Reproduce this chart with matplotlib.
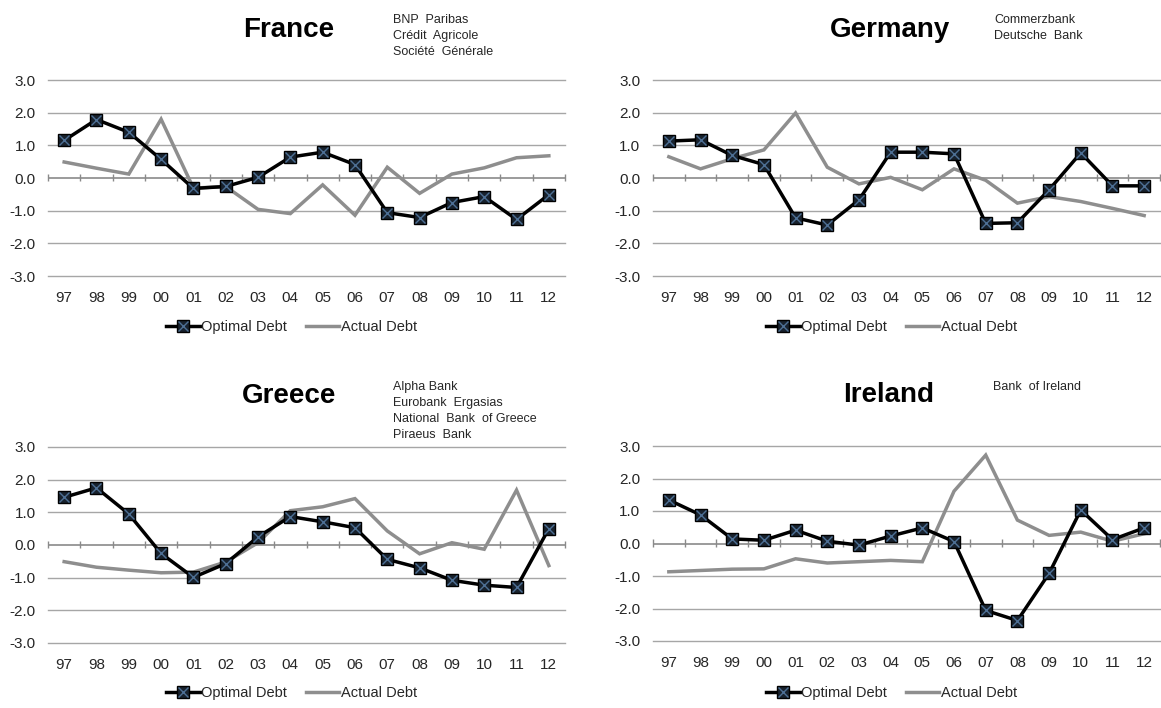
import numpy as np
import matplotlib
matplotlib.use('Agg')
import matplotlib.pyplot as plt
from matplotlib.lines import Line2D

plt.rcParams['font.family'] = ['Liberation Sans', 'DejaVu Sans']

years = ['97', '98', '99', '00', '01', '02', '03', '04', '05', '06', '07', '08', '09', '10', '11', '12']

france_optimal = [1.15, 1.79, 1.40, 0.57, -0.32, -0.26, 0.02, 0.64, 0.79, 0.41, -1.06, -1.21, -0.75, -0.57, -1.27, -0.51]
france_actual = [0.49, 0.30, 0.12, 1.80, -0.31, -0.26, -0.96, -1.09, -0.21, -1.14, 0.33, -0.47, 0.12, 0.31, 0.62, 0.68]

germany_optimal = [1.13, 1.17, 0.69, 0.41, -1.22, -1.44, -0.67, 0.79, 0.79, 0.74, -1.39, -1.37, -0.36, 0.77, -0.24, -0.24]
germany_actual = [0.65, 0.28, 0.59, 0.86, 1.99, 0.33, -0.18, 0.02, -0.36, 0.28, -0.07, -0.77, -0.57, -0.72, -0.93, -1.15]

greece_optimal = [1.46, 1.75, 0.95, -0.26, -0.99, -0.57, 0.25, 0.87, 0.71, 0.53, -0.44, -0.70, -1.08, -1.23, -1.30, 0.50]
greece_actual = [-0.51, -0.68, -0.77, -0.85, -0.83, -0.52, 0.07, 1.05, 1.17, 1.42, 0.43, -0.27, 0.07, -0.13, 1.68, -0.63]

ireland_optimal = [1.34, 0.88, 0.14, 0.10, 0.41, 0.07, -0.05, 0.23, 0.48, 0.06, -2.06, -2.37, -0.92, 1.03, 0.12, 0.48]
ireland_actual = [-0.87, -0.83, -0.79, -0.78, -0.47, -0.60, -0.56, -0.52, -0.56, 1.61, 2.72, 0.72, 0.25, 0.35, 0.07, 0.30]

panels = [
    ('France', ['BNP  Paribas', 'Crédit  Agricole', 'Société  Générale'], france_optimal, france_actual),
    ('Germany', ['Commerzbank', 'Deutsche  Bank'], germany_optimal, germany_actual),
    ('Greece', ['Alpha Bank', 'Eurobank  Ergasias', 'National  Bank  of Greece', 'Piraeus  Bank'], greece_optimal, greece_actual),
    ('Ireland', ['Bank  of Ireland'], ireland_optimal, ireland_actual),
]

W, H = 1161, 708
# pixel boxes: left, top, right, bottom of plot area
boxes = [(48, 80, 565, 276), (653, 80, 1160, 276), (48, 447, 565, 643), (653, 446, 1160, 641)]
title_pos = [(289, 30, 393, 20), (890, 30, 994, 20), (289, 396, 393, 387), (889, 395, 993, 387)]
legend_y = [327, 327, 693, 693]

BLACK = '#000000'
GREY = '#8e8e8e'
GRID = '#a6a6a6'
TEXT = '#262626'

fig = plt.figure(figsize=(W / 100, H / 100), dpi=100)

x = np.arange(len(years))

for (name, banks, opt, act), (l, t, r, b), (tx, ty, bx, by), ly in zip(panels, boxes, title_pos, legend_y):
    ax = fig.add_axes([l / W, 1 - b / H, (r - l) / W, (b - t) / H])
    ax.set_xlim(-0.5, len(years) - 0.5)
    ax.set_ylim(-3, 3)
    for s in ax.spines.values():
        s.set_visible(False)
    for g in [-3, -2, -1, 1, 2, 3]:
        ax.axhline(g, color=GRID, lw=1.0, zorder=0, clip_on=False)
    ax.axhline(0, color='#8a8a8a', lw=1.2, zorder=1)
    ax.vlines(np.arange(len(years) + 1) - 0.5, -0.1, 0.13, color='#8a8a8a', lw=1.0, zorder=1, clip_on=False)

    ax.plot(x, act, color=GREY, lw=2.5, solid_joinstyle='miter', zorder=2)
    ax.plot(x, opt, color=BLACK, lw=2.5, marker='s', ms=8, mfc='#18222e', mec=BLACK, mew=1.0, zorder=3)
    ax.plot(x, opt, ls='none', marker='x', ms=6.5, mec='#4d6f94', mew=1.0, zorder=4)

    ax.set_yticks([-3, -2, -1, 0, 1, 2, 3])
    ax.set_yticklabels(['%.1f' % v for v in [-3, -2, -1, 0, 1, 2, 3]])
    ax.set_xticks(x)
    ax.set_xticklabels(years)
    ax.tick_params(axis='both', length=0, labelsize=11, colors=TEXT)
    ax.tick_params(axis='x', pad=11)
    ax.tick_params(axis='y', pad=9)

    fig.text(tx / W, 1 - ty / H, name, fontsize=20, fontweight='bold', ha='center', va='center', color='black')
    for i, bank in enumerate(banks):
        fig.text(bx / W, 1 - (by + 16 * i) / H, bank, fontsize=9, ha='left', va='center', color=TEXT)

    h_opt = (Line2D([], [], color=BLACK, lw=2.5, marker='s', ms=8, mfc='#18222e', mec=BLACK),
             Line2D([], [], ls='none', marker='x', ms=6.5, mec='#4d6f94', mew=1.0))
    h_act = Line2D([], [], color=GREY, lw=2.5)
    cx = (l + r) / 2 - 15
    fig.legend([h_opt, h_act], ['Optimal Debt', 'Actual Debt'], loc='center',
               bbox_to_anchor=(cx / W, 1 - ly / H), ncol=2, frameon=False,
               fontsize=10.5, handlelength=2.3, handletextpad=0.1, columnspacing=1.3,
               labelcolor=TEXT)

fig.savefig('out.png', dpi=100)
